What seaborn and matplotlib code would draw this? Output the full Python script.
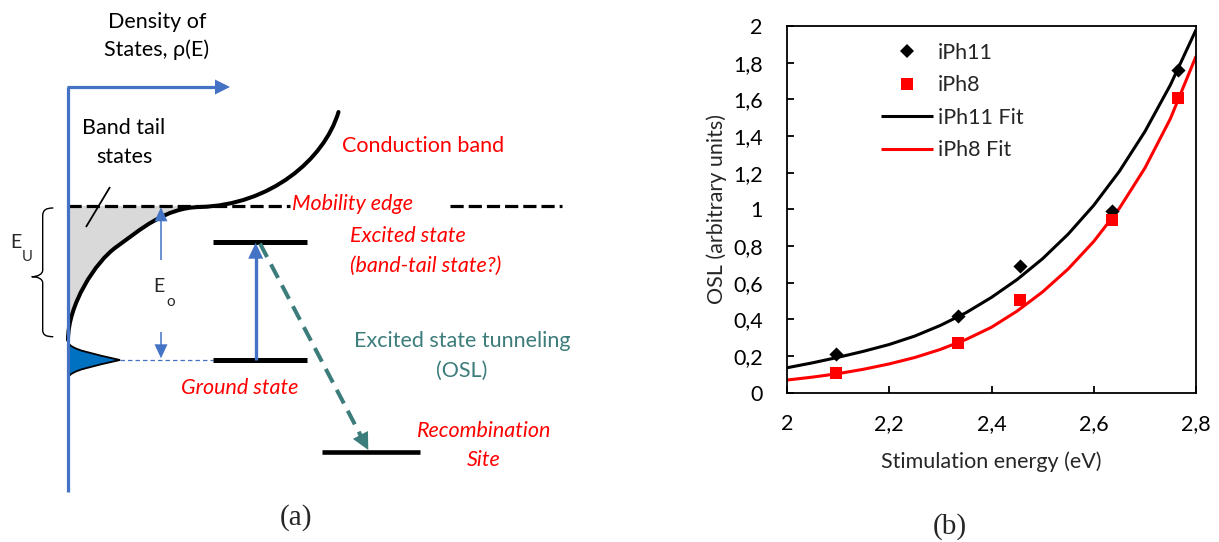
import matplotlib
matplotlib.use("Agg")
import matplotlib.pyplot as plt
from matplotlib.path import Path
from matplotlib.patches import PathPatch, Polygon
from matplotlib.lines import Line2D
import numpy as np
import pandas as pd
import seaborn as sns

# ---------------- OSL stimulation spectra (panel b) ----------------
energy_ev = [2.095, 2.335, 2.455, 2.635, 2.765]
osl_iph11 = [0.21, 0.42, 0.69, 0.99, 1.76]
osl_iph8 = [0.11, 0.27, 0.505, 0.94, 1.605]

fit_energy = [2.00, 2.05, 2.10, 2.15, 2.20, 2.25, 2.30, 2.35, 2.40,
              2.45, 2.50, 2.55, 2.60, 2.65, 2.70, 2.75, 2.80]
fit_iph11 = [0.136, 0.163, 0.193, 0.226, 0.263, 0.309, 0.367, 0.436, 0.52,
             0.617, 0.731, 0.865, 1.022, 1.207, 1.424, 1.679, 1.979]
fit_iph8 = [0.069, 0.085, 0.104, 0.128, 0.157, 0.192, 0.236, 0.29, 0.357,
            0.445, 0.55, 0.675, 0.825, 1.005, 1.225, 1.495, 1.835]

series_names = ["iPh11", "iPh8", "iPh11 Fit", "iPh8 Fit"]
x_ticks = [2.0, 2.2, 2.4, 2.6, 2.8]
x_tick_labels = ["2", "2,2", "2,4", "2,6", "2,8"]
y_ticks = [0, 0.2, 0.4, 0.6, 0.8, 1.0, 1.2, 1.4, 1.6, 1.8, 2.0]
y_tick_labels = ["0", "0,2", "0,4", "0,6", "0,8", "1", "1,2", "1,4", "1,6", "1,8", "2"]

# ---------------- band diagram geometry (panel a, px units, y down) ----------------
dos_axis_x = 68
dos_axis_top, dos_axis_bottom, dos_arrow_tip = 87, 492, 230
mobility_edge_y = 206
mobility_dash_spans = [(68, 290), (450, 562)]
excited_y, ground_y, recomb_y = 241.7, 360, 451.7
trap_span = (213, 307)
recomb_span = (322, 420)

# band edge: tail states merging into the conduction band (cubic Bezier segments)
tail_seg_a = [(68, 340), (68, 305), (95, 262), (116.7, 246.7)]
tail_seg_b = [(116.7, 246.7), (140, 230), (165, 207.5), (200, 207)]
band_seg_c = [(200, 207), (270, 205), (324, 160), (338.5, 112)]
# ground-state distribution lobe
lobe_top = [(68, 342), (70, 350), (95, 354), (120, 360)]
lobe_bottom = [(120, 360), (95, 366), (70, 370), (68, 378)]

BLUE = "#4472C4"
DEEP_BLUE = "#0070C0"
TEAL = "#3C7C7B"
RED = "#FF0000"

sns.set_theme(style="ticks")
plt.rcParams["font.family"] = ["Lato", "DejaVu Sans"]
plt.rcParams["lines.scale_dashes"] = False
plt.rcParams["lines.solid_capstyle"] = "butt"

W, H = 1219, 542
fig = plt.figure(figsize=(W / 100, H / 100), dpi=100)
fig.patch.set_facecolor("white")


def fx(px):
    return px / W


def fy(py):
    return 1 - py / H


# ======================= panel (a) =======================
axd = fig.add_axes([0, 0, 600 / W, 1])
axd.set_xlim(0, 600)
axd.set_ylim(H, 0)
axd.axis("off")


def bezier_path(*segments, close_to=None):
    verts = [segments[0][0]]
    codes = [Path.MOVETO]
    for seg in segments:
        verts += list(seg[1:])
        codes += [Path.CURVE4] * 3
    if close_to:
        for p in close_to:
            verts.append(p)
            codes.append(Path.LINETO)
        verts.append(segments[0][0])
        codes.append(Path.CLOSEPOLY)
    return Path(verts, codes)


def head(ax, tip, direction, length, half_width, color, z=5):
    d = np.asarray(direction, float)
    d /= np.hypot(*d)
    n = np.array([-d[1], d[0]])
    tip = np.asarray(tip, float)
    base = tip - d * length
    ax.add_patch(Polygon([tip, base + n * half_width, base - n * half_width],
                         closed=True, color=color, lw=0, zorder=z))


# grey band-tail region
grey = bezier_path(tail_seg_a, tail_seg_b,
                   close_to=[(200, mobility_edge_y), (dos_axis_x, mobility_edge_y)])
axd.add_patch(PathPatch(grey, facecolor="#D9D9D9", edgecolor="none", zorder=1))

# mobility edge
for x0, x1 in mobility_dash_spans:
    axd.plot([x0, x1], [mobility_edge_y, mobility_edge_y], color="black", lw=2.3,
             dashes=(9.5, 3.6), zorder=2)

# density of states curve
dos = bezier_path(tail_seg_a, tail_seg_b, band_seg_c)
axd.add_patch(PathPatch(dos, facecolor="none", edgecolor="black", lw=2.9,
                        capstyle="round", zorder=3))

# ground-state lobe
lobe = bezier_path(lobe_top, lobe_bottom, close_to=[(68, 342)])
axd.add_patch(PathPatch(lobe, facecolor=DEEP_BLUE, edgecolor="none", zorder=2))
axd.add_patch(PathPatch(bezier_path(lobe_top, lobe_bottom), facecolor="none",
                        edgecolor="black", lw=1.3, zorder=3))

# density-of-states axes
axd.plot([dos_axis_x, dos_axis_x], [dos_axis_top, dos_axis_bottom], color=BLUE,
         lw=2.3, zorder=4)
axd.plot([dos_axis_x - 1.5, dos_arrow_tip - 14], [dos_axis_top, dos_axis_top],
         color=BLUE, lw=2.3, zorder=4)
head(axd, (dos_arrow_tip, dos_axis_top), (1, 0), 15, 7.5, BLUE)

# pointer for band tail label
axd.plot([110, 86], [187, 227], color="black", lw=1.3, zorder=4)

# E_U brace
brace = Path([(53.3, 208), (46, 208), (42.7, 210), (42.7, 216),
              (42.7, 270),
              (42.7, 274), (38, 276.7), (31.7, 276.7),
              (38, 276.7), (42.7, 279), (42.7, 283),
              (42.7, 330),
              (42.7, 335), (46, 336.7), (53.3, 336.7)],
             [Path.MOVETO, Path.CURVE4, Path.CURVE4, Path.CURVE4,
              Path.LINETO,
              Path.CURVE4, Path.CURVE4, Path.CURVE4,
              Path.CURVE4, Path.CURVE4, Path.CURVE4,
              Path.LINETO,
              Path.CURVE4, Path.CURVE4, Path.CURVE4])
axd.add_patch(PathPatch(brace, facecolor="none", edgecolor="black", lw=1.0, zorder=4))
axd.text(16, 242, "E", fontsize=14, ha="center", va="center")
axd.text(27, 257, "U", fontsize=10.5, ha="center", va="center")

# E_o double arrow
axd.plot([161, 161], [260, 220], color=BLUE, lw=1.1, zorder=4)
head(axd, (161, 207.3), (0, -1), 14, 6.5, BLUE)
axd.plot([161, 161], [331.7, 345], color=BLUE, lw=1.1, zorder=4)
head(axd, (161, 358.3), (0, 1), 14, 6.5, BLUE)
axd.text(159, 287, "E", fontsize=14, ha="center", va="center")
axd.text(170.5, 302, "o", fontsize=11, ha="center", va="center")

# link from lobe to ground state
axd.plot([120, trap_span[0]], [ground_y, ground_y], color=BLUE, lw=0.9,
         dashes=(3.2, 2.2), zorder=2)

# trap levels
for y in (excited_y, ground_y):
    axd.plot(trap_span, [y, y], color="black", lw=3.6, zorder=4)
axd.plot(recomb_span, [recomb_y, recomb_y], color="black", lw=3.3, zorder=4)

# optical excitation
axd.plot([255.7, 255.7], [ground_y, 255], color=BLUE, lw=2.4, zorder=5)
head(axd, (255.7, excited_y + 1), (0, -1), 16, 7.5, BLUE, z=6)

# excited-state tunnelling to the recombination site
tail = np.array([260.0, 243.5])
tip = np.array([368.3, 450.0])
vec = (tip - tail) / np.hypot(*(tip - tail))
axd.plot([tail[0], tip[0] - vec[0] * 14], [tail[1], tip[1] - vec[1] * 14],
         color=TEAL, lw=2.9, dashes=(11, 6), zorder=5)
head(axd, tip, vec, 17, 8.5, TEAL, z=6)

# labels
txt = dict(fontsize=15.5, va="center")
axd.text(157, 22, "Density of", ha="center", color="black", **txt)
axd.text(157, 50, "States, ρ(E)", ha="center", color="black", **txt)
axd.text(124, 128, "Band tail", ha="center", color="black", **txt)
axd.text(124, 157, "states", ha="center", color="black", **txt)
axd.text(341.5, 146, "Conduction band", ha="left", color=RED, **txt)
axd.text(292, 203.5, "Mobility edge", ha="left", color=RED, style="italic", **txt)
axd.text(350, 236.5, "Excited state", ha="left", color=RED, style="italic", **txt)
axd.text(350, 265.5, "(band-tail state?)", ha="left", color=RED, style="italic", **txt)
axd.text(462, 341, "Excited state tunneling", ha="center", color=TEAL, **txt)
axd.text(462, 371, "(OSL)", ha="center", color=TEAL, **txt)
axd.text(181, 388, "Ground state", ha="left", color=RED, style="italic", **txt)
axd.text(484, 431, "Recombination", ha="center", color=RED, style="italic", **txt)
axd.text(484, 460, "Site", ha="center", color=RED, style="italic", **txt)

fig.text(fx(296), fy(518), "(a)", fontsize=21, family="Liberation Serif",
         ha="center", va="center")

# ======================= panel (b) =======================
x0, x1 = 787, 1196
y0, y1 = 26, 392.7
ax = fig.add_axes([fx(x0), fy(y1), (x1 - x0) / W, (y1 - y0) / H])

sns.lineplot(x=fit_energy, y=fit_iph11, ax=ax, color="black", lw=2.2, zorder=2)
sns.lineplot(x=fit_energy, y=fit_iph8, ax=ax, color=RED, lw=2.2, zorder=2)
sns.scatterplot(x=energy_ev, y=osl_iph11, ax=ax, marker="D", s=52, color="black",
                linewidth=0, zorder=3)
sns.scatterplot(x=energy_ev, y=osl_iph8, ax=ax, marker="s", s=80, color=RED,
                linewidth=0, zorder=3)

ax.set_xlim(2.0, 2.8)
ax.set_ylim(0, 2.0)
ax.set_xticks(x_ticks)
ax.set_xticklabels(x_tick_labels)
ax.set_yticks(y_ticks)
ax.set_yticklabels(y_tick_labels)
for s in ax.spines.values():
    s.set_visible(True)
    s.set_linewidth(1.3)
    s.set_color("black")
ax.tick_params(axis="both", direction="in", length=5, width=1.3, labelsize=15.5,
               colors="black")
ax.tick_params(axis="x", pad=15.5)
ax.tick_params(axis="y", pad=17.5)
ax.set_xlabel("Stimulation energy (eV)", fontsize=15.5, va="center")
ax.xaxis.set_label_coords(0.5, (y1 - 462) / (y1 - y0))
ax.set_ylabel("OSL (arbitrary units)", fontsize=15.5, va="center")
ax.yaxis.set_label_coords((717 - x0) / (x1 - x0), 0.5)

handles = [
    Line2D([], [], marker="D", ls="none", color="black", markersize=7.2, markeredgewidth=0),
    Line2D([], [], marker="s", ls="none", color=RED, markersize=8.5, markeredgewidth=0),
    Line2D([], [], color="black", lw=2.2),
    Line2D([], [], color=RED, lw=2.2),
]
fig.legend(handles, series_names, loc="upper left",
           bbox_to_anchor=(fx(881.5), fy(43)), bbox_transform=fig.transFigure,
           frameon=False, fontsize=15.5, handlelength=2.4, handletextpad=0.22,
           labelspacing=0.58, borderpad=0, borderaxespad=0)

fig.text(fx(950), fy(527), "(b)", fontsize=21, family="Liberation Serif",
         ha="center", va="center")

fig.savefig("out.png", dpi=100)
